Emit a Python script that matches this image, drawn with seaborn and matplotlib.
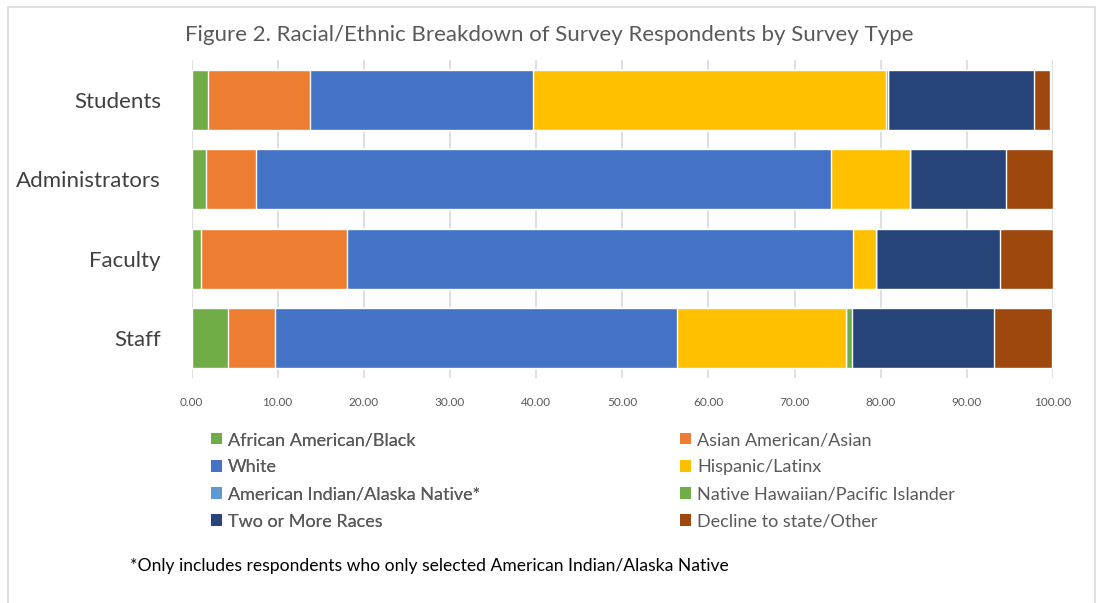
import numpy as np
import pandas as pd
import matplotlib.pyplot as plt
import seaborn as sns
from matplotlib.patches import Patch, Rectangle

# survey types (top to bottom)
survey_types = ["Students", "Administrators", "Faculty", "Staff"]

# percentages per group
african_american = [1.9, 1.7, 1.1, 4.2]
asian_american = [11.8, 5.75, 16.9, 5.45]
white = [25.9, 66.75, 58.8, 46.65]
hispanic = [41.0, 9.2, 2.7, 19.7]
american_indian = [0.2, 0.0, 0.0, 0.0]
native_hawaiian = [0.0, 0.0, 0.0, 0.7]
two_or_more = [17.0, 11.2, 14.3, 16.5]
decline = [1.9, 5.4, 6.2, 6.7]

groups = ["African American/Black", "Asian American/Asian", "White", "Hispanic/Latinx",
          "American Indian/Alaska Native*", "Native Hawaiian/Pacific Islander",
          "Two or More Races", "Decline to state/Other"]
values = [african_american, asian_american, white, hispanic,
          american_indian, native_hawaiian, two_or_more, decline]
colors = ["#70AD47", "#ED7D31", "#4472C4", "#FFC000",
          "#5B9BD5", "#70AD47", "#264478", "#9E480E"]

df = pd.DataFrame(dict(zip(groups, values)), index=survey_types)
cum = df.cumsum(axis=1)

sns.set_style("white")
plt.rcParams['font.family'] = ['Lato', 'DejaVu Sans']

fig = plt.figure(figsize=(10.99, 6.03), dpi=100)
ax = fig.add_axes([191.5 / 1099, 1 - 378 / 603, (1053 - 191.5) / 1099, 318 / 603])

# stacked bars: draw cumulative totals from the last group back to the first
for g, c in reversed(list(zip(groups, colors))):
    sns.barplot(x=cum[g].values, y=survey_types, color=c, orient="h",
                width=0.76, saturation=1, ax=ax, zorder=3)

ax.set_xlim(0, 100)
ax.set_ylim(3.5, -0.5)
ax.set_xticks(np.arange(0, 101, 10))
ax.set_xticklabels([f"{t:.2f}" for t in np.arange(0, 101, 10)])
ax.tick_params(axis="x", labelsize=8.5, labelcolor="#595959", length=0, pad=14)
ax.tick_params(axis="y", labelsize=16, labelcolor="#404040", length=0, pad=22)
ax.grid(axis="x", color="#D9D9D9", linewidth=1.2, zorder=0)
for s in ax.spines.values():
    s.set_visible(False)
ax.set_xlabel("")
ax.set_ylabel("")

fig.text(0.5, 1 - 35 / 603, "Figure 2. Racial/Ethnic Breakdown of Survey Respondents by Survey Type",
         ha="center", va="center", fontsize=16, color="#595959")

# legend in two columns
handles = [Patch(facecolor=c, edgecolor="none") for c in colors]
leg_kw = dict(frameon=False, fontsize=13, handlelength=0.6, handleheight=0.6,
              handletextpad=0.35, labelspacing=0.62, labelcolor="#595959",
              loc="upper left", borderaxespad=0, borderpad=0)
leg1 = fig.legend([handles[i] for i in (0, 2, 4, 6)], [groups[i] for i in (0, 2, 4, 6)],
                  bbox_to_anchor=(211 / 1099, 1 - 432 / 603), **leg_kw)
fig.add_artist(leg1)
fig.legend([handles[i] for i in (1, 3, 5, 7)], [groups[i] for i in (1, 3, 5, 7)],
           bbox_to_anchor=(680 / 1099, 1 - 432 / 603), **leg_kw)

fig.text(130 / 1099, 1 - 566 / 603,
         "*Only includes respondents who only selected American Indian/Alaska Native",
         ha="left", va="center", fontsize=12.6, color="black")

# chart border
fig.patches.append(Rectangle((8 / 1099, -0.05), (1095 - 8) / 1099, 1 - 7 / 603 + 0.05,
                             transform=fig.transFigure, fill=False,
                             edgecolor="#D9D9D9", linewidth=1.2))

fig.savefig("out.png", dpi=100)
